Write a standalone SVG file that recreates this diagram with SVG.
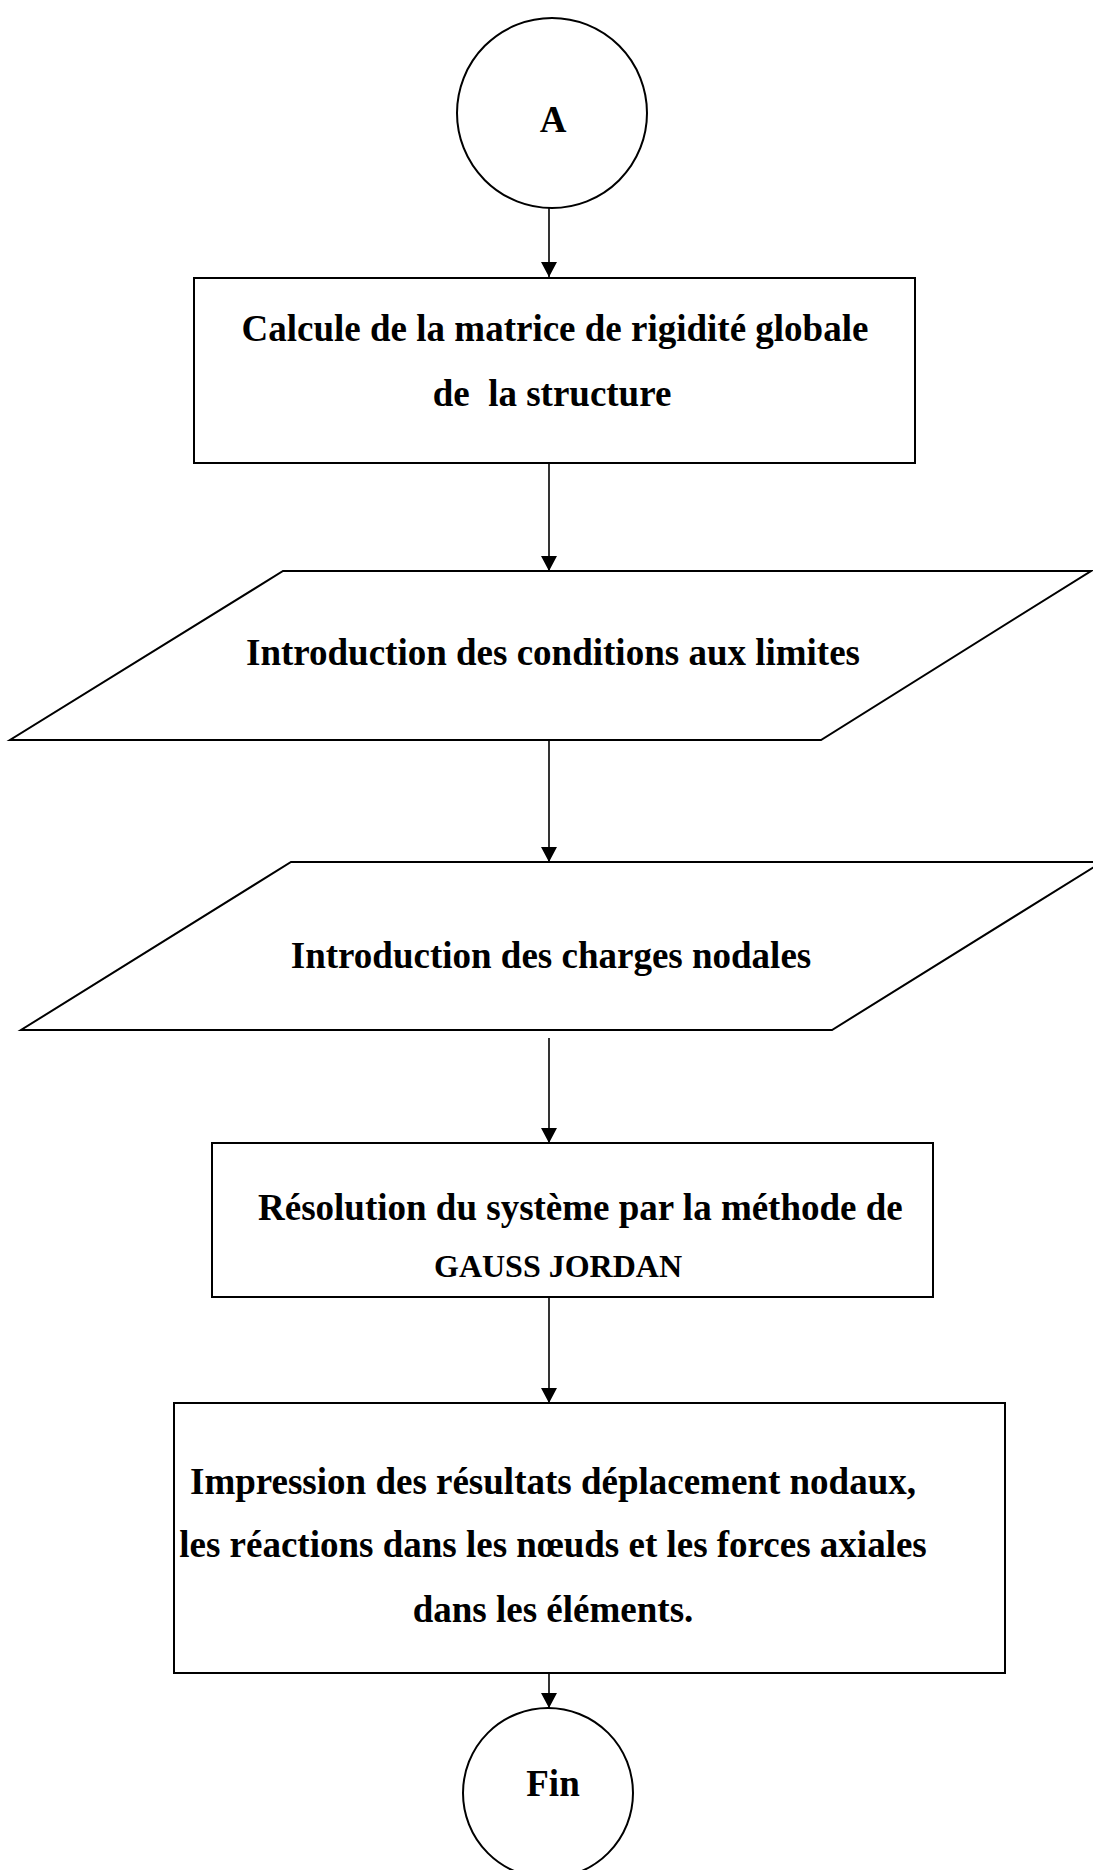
<svg xmlns="http://www.w3.org/2000/svg" width="1093" height="1870" viewBox="0 0 1093 1870">
<defs>
<marker id="ah" markerWidth="16" markerHeight="16" refX="15" refY="8" orient="auto" markerUnits="userSpaceOnUse">
<path d="M0,0 L15,8 L0,16 Z" fill="#000"/>
</marker>
<style>
.shape{fill:#fff;stroke:#000;stroke-width:2}
.conn{stroke:#000;stroke-width:1.6;fill:none}
.t{font-family:"Liberation Serif","Times New Roman",serif;font-weight:bold;font-size:37px;fill:#000}
.s{font-size:32px}
.m{text-anchor:middle}
</style>
</defs>
<rect width="1093" height="1870" fill="#fff"/>
<g id="connectors">
<line class="conn" x1="549" y1="208" x2="549" y2="277" marker-end="url(#ah)"/>
<line class="conn" x1="549" y1="463" x2="549" y2="571" marker-end="url(#ah)"/>
<line class="conn" x1="549" y1="731" x2="549" y2="862" marker-end="url(#ah)"/>
<line class="conn" x1="549" y1="1038" x2="549" y2="1143" marker-end="url(#ah)"/>
<line class="conn" x1="549" y1="1297" x2="549" y2="1403" marker-end="url(#ah)"/>
<line class="conn" x1="549" y1="1667" x2="549" y2="1708" marker-end="url(#ah)"/>
</g>
<g id="start">
<circle class="shape" cx="552" cy="113" r="95"/>
<text class="t m" x="553" y="132">A</text>
</g>
<g id="stiffness">
<rect class="shape" x="194" y="278" width="721" height="185"/>
<text class="t m" x="555" y="341">Calcule de la matrice de rigidité globale</text>
<text class="t m" x="552" y="406" xml:space="preserve">de  la structure</text>
</g>
<g id="boundary">
<polygon class="shape" points="283,571 1091,571 821,740 10,740"/>
<text class="t m" x="553" y="665">Introduction des conditions aux limites</text>
</g>
<g id="loads">
<polygon class="shape" points="291,862 1102,862 832,1030 21,1030"/>
<text class="t m" x="551" y="968">Introduction des charges nodales</text>
</g>
<g id="solve">
<rect class="shape" x="212" y="1143" width="721" height="154"/>
<text class="t" x="258" y="1220">Résolution du système par la méthode de</text>
<text class="t s" x="434" y="1277">GAUSS JORDAN</text>
</g>
<g id="print">
<rect class="shape" x="174" y="1403" width="831" height="270"/>
<text class="t m" x="553" y="1494">Impression des résultats déplacement nodaux,</text>
<text class="t m" x="553" y="1557">les réactions dans les nœuds et les forces axiales</text>
<text class="t m" x="553" y="1622">dans les éléments.</text>
</g>
<g id="end">
<circle class="shape" cx="548" cy="1793" r="85"/>
<text class="t m" x="553" y="1796">Fin</text>
</g>
</svg>
